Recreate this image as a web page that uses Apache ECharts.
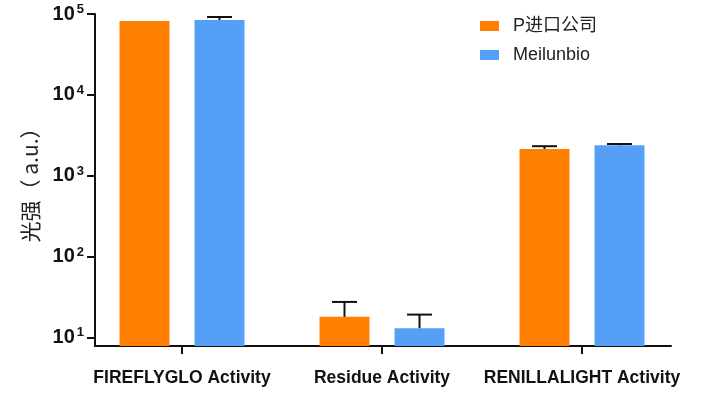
<!DOCTYPE html>
<html>
<head>
<meta charset="utf-8">
<script src="https://cdn.jsdelivr.net/npm/echarts@6/dist/echarts.min.js"></script>
<style>
  html, body { margin: 0; padding: 0; background: #fff; }
  #chart { width: 704px; height: 397px; }
</style>
</head>
<body>
<div id="chart"></div>
<script>
// 数据
const categories = ['FIREFLYGLO Activity', 'Residue Activity', 'RENILLALIGHT Activity'];
const seriesNames = ['P进口公司', 'Meilunbio'];
const importValues = [82000, 18.2, 2150];
const importErrors = [0, 9.6, 180];
const meilunValues = [84300, 13.2, 2390];
const meilunErrors = [7500, 6.2, 90];
const tickExponents = [1, 2, 3, 4, 5];

const colors = ['#FF8000', '#559FF6'];
const font = '"Liberation Sans", Arial, sans-serif';
const log10 = v => Math.log10(v);

const myChart = echarts.init(document.getElementById('chart'));

// 误差线（只画上半部分），在对数空间里画
const errorSeries = (values, errors, offset) => ({
  type: 'custom',
  silent: true,
  z: 3,
  data: values.map((v, i) => [i, log10(v), log10(v + errors[i])]),
  renderItem: (params, api) => {
    const i = api.value(0);
    if (api.value(2) <= api.value(1)) return null;
    const base = api.coord([i, api.value(1)]);
    const end = api.coord([i, api.value(2)]);
    const x = base[0] + offset;
    const style = { stroke: '#111', lineWidth: 2 };
    return {
      type: 'group',
      children: [
        { type: 'line', shape: { x1: x, y1: base[1], x2: x, y2: end[1] }, style },
        { type: 'line', shape: { x1: x - 12.5, y1: end[1], x2: x + 12.5, y2: end[1] }, style }
      ]
    };
  }
});

const option = {
  animation: false,
  color: colors,
  grid: [
    { left: 82, right: 22, top: 14, bottom: 51 },  // 柱子
    { left: 95, right: 33, top: 14, bottom: 51 }   // 坐标轴线
  ],
  legend: {
    orient: 'vertical',
    left: 475,
    top: 12,
    itemWidth: 19,
    itemHeight: 10,
    itemGap: 11,
    icon: 'rect',
    data: seriesNames,
    textStyle: { fontSize: 18, color: '#222', fontFamily: font + ', "Noto Sans CJK SC"', padding: [0, 0, 0, 9] }
  },
  xAxis: [
    {
      type: 'category',
      gridIndex: 0,
      data: categories,
      axisLine: { show: false },
      axisTick: { show: true, interval: 0, alignWithLabel: true, length: 8, lineStyle: { color: '#111', width: 2 } },
      axisLabel: { interval: 0, margin: 23, fontSize: 17.5, fontWeight: 'bold', color: '#111', fontFamily: font }
    },
    {
      type: 'value',
      gridIndex: 1,
      min: 0,
      max: 1,
      axisLine: { show: true, lineStyle: { color: '#111', width: 2 } },
      axisTick: { show: false },
      axisLabel: { show: false },
      splitLine: { show: false }
    }
  ],
  yAxis: [
    { type: 'value', gridIndex: 0, min: 0.9, max: 5, show: false },
    {
      type: 'value',
      gridIndex: 1,
      min: 0.9,
      max: 5,
      name: '光强（ a.u.）',
      nameLocation: 'middle',
      nameGap: 54,
      nameTextStyle: { fontSize: 21, color: '#222', fontFamily: '"Noto Sans CJK SC", sans-serif' },
      axisLine: { show: true, lineStyle: { color: '#111', width: 2 } },
      axisTick: { show: true, length: 8, customValues: tickExponents, lineStyle: { color: '#111', width: 2 } },
      splitLine: { show: false },
      axisLabel: {
        margin: 11,
        customValues: tickExponents,
        formatter: v => '{b|10}{s|' + v + '}',
        rich: {
          b: { fontSize: 20, fontWeight: 'bold', color: '#111', fontFamily: font, lineHeight: 22 },
          s: { fontSize: 13, fontWeight: 'bold', color: '#111', fontFamily: font, lineHeight: 22, padding: [0, 0, 10, 2] }
        }
      }
    }
  ],
  series: [
    { name: seriesNames[0], type: 'bar', data: importValues.map(log10), barWidth: 50, barGap: '50%', z: 2 },
    { name: seriesNames[1], type: 'bar', data: meilunValues.map(log10), barWidth: 50, barGap: '50%', z: 2 },
    errorSeries(importValues, importErrors, -37.5),
    errorSeries(meilunValues, meilunErrors, 37.5)
  ]
};

myChart.setOption(option);
</script>
</body>
</html>
